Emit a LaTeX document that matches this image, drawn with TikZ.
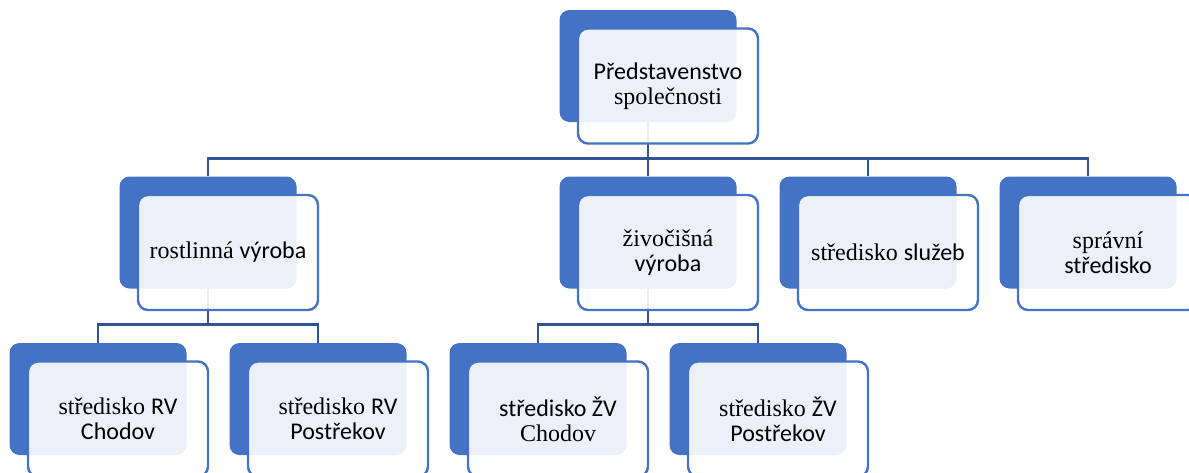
\documentclass[tikz,border=0pt]{standalone}
\usepackage{fontspec}
\setmainfont{Liberation Serif}
\newfontfamily\calibfont{Carlito}
\newcommand{\cbr}[1]{{\calibfont #1}}
\usepackage{tikz}
\definecolor{boxblue}{HTML}{4472C4}
\definecolor{lineblue}{HTML}{2F5597}

\begin{document}
\begin{tikzpicture}[x={(1pt,0)}, y={(0,-1pt)},
    back/.style={fill=boxblue, rounded corners=10pt, minimum width=177pt, minimum height=112pt, inner sep=0pt},
    front/.style={draw=boxblue, line width=2.4pt, fill=white, fill opacity=0.9, text opacity=1,
        rounded corners=10pt, minimum width=180pt, minimum height=115pt, inner sep=2pt,
        align=center, font=\fontsize{24}{25}\selectfont},
    conn/.style={draw=lineblue, line width=2.6pt}]

        \useasboundingbox (0,0) rectangle (1189,472);

        \node[back] (top) at (648,66) {};
        \node[back] (rv) at (208,232.5) {};
        \node[back] (zv) at (648,232.5) {};
        \node[back] (sl) at (868,232.5) {};
        \node[back] (sp) at (1088,232.5) {};
        \node[back] (rvch) at (98,399) {};
        \node[back] (rvpo) at (318,399) {};
        \node[back] (zvch) at (538,399) {};
        \node[back] (zvpo) at (758,399) {};

        \foreach \child in {rv,zv,sl,sp}
            \draw[conn] (top.south) -- ++(0,36) -| (\child.north);
        \draw[conn] (rv.south) -- ++(0,36) -| (rvch.north);
        \draw[conn] (rv.south) -- ++(0,36) -| (rvpo.north);
        \draw[conn] (zv.south) -- ++(0,36) -| (zvch.north);
        \draw[conn] (zv.south) -- ++(0,36) -| (zvpo.north);

        \node[front] (topf) at ([shift={(20,20)}]top.center) {\cbr{Představenstvo}\\společnosti};
        \node[front] (rvf) at ([shift={(20,20)}]rv.center) {rostlinná \cbr{výroba}};
        \node[front] (zvf) at ([shift={(20,20)}]zv.center) {živočišná\\\cbr{výroba}};
        \node[front] (slf) at ([shift={(20,20)}]sl.center) {středisko \cbr{služeb}};
        \node[front] (spf) at ([shift={(20,20)}]sp.center) {správní\\\cbr{středisko}};
        \node[front] (rvchf) at ([shift={(20,20)}]rvch.center) {středisko \cbr{RV}\\\cbr{Chodov}};
        \node[front] (rvpof) at ([shift={(20,20)}]rvpo.center) {středisko \cbr{RV}\\\cbr{Postřekov}};
        \node[front] (zvchf) at ([shift={(20,20)}]zvch.center) {\cbr{středisko ŽV}\\Chodov};
        \node[front] (zvpof) at ([shift={(20,20)}]zvpo.center) {středisko \cbr{ŽV}\\\cbr{Postřekov}};

        % Grid
        %\draw[help lines] (0,0) grid[step=50] (1189,472);
    \end{tikzpicture}
\end{document}
